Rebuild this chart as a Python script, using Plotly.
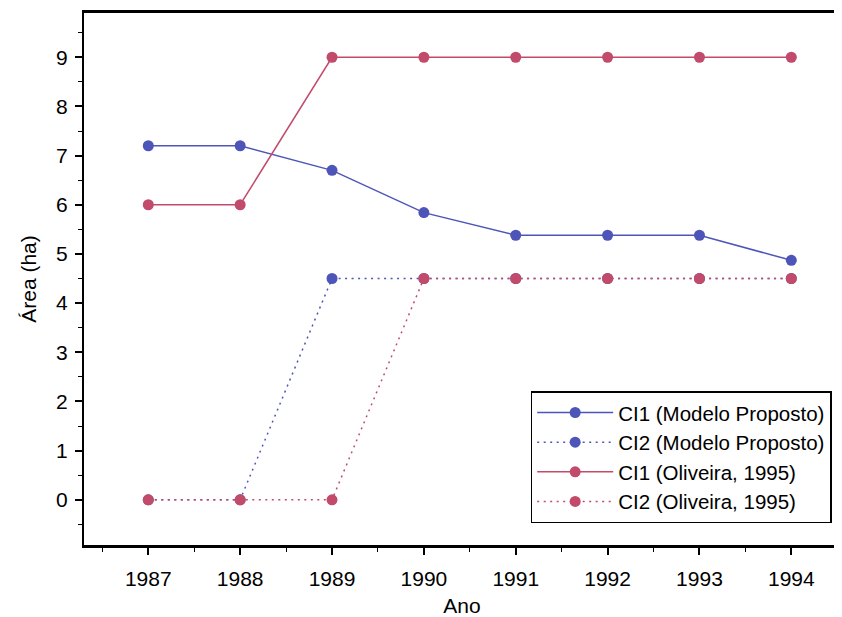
import plotly.graph_objects as go

anos = [1987, 1988, 1989, 1990, 1991, 1992, 1993, 1994]
ci1_modelo = [7.2, 7.2, 6.7, 5.84, 5.38, 5.38, 5.38, 4.87]
ci2_modelo = [0, 0, 4.5, 4.5, 4.5, 4.5, 4.5, 4.5]
ci1_oliveira = [6, 6, 9, 9, 9, 9, 9, 9]
ci2_oliveira = [0, 0, 0, 4.5, 4.5, 4.5, 4.5, 4.5]

blue = "#4d55b8"
red = "#c24a6a"
dotted = "2px,4.5px"

fig = go.Figure()
fig.add_trace(go.Scatter(x=anos, y=ci1_modelo, name="CI1 (Modelo Proposto)", mode="lines+markers",
                         line=dict(color=blue, width=1.5), marker=dict(color=blue, size=11)))
fig.add_trace(go.Scatter(x=anos, y=ci2_modelo, name="CI2 (Modelo Proposto)", mode="lines+markers",
                         line=dict(color=blue, width=1.5, dash=dotted), marker=dict(color=blue, size=11)))
fig.add_trace(go.Scatter(x=anos, y=ci1_oliveira, name="CI1 (Oliveira, 1995)", mode="lines+markers",
                         line=dict(color=red, width=1.5), marker=dict(color=red, size=11)))
fig.add_trace(go.Scatter(x=anos, y=ci2_oliveira, name="CI2 (Oliveira, 1995)", mode="lines+markers",
                         line=dict(color=red, width=1.5, dash=dotted), marker=dict(color=red, size=11)))

font = "Liberation Sans, Arial, sans-serif"
fig.update_layout(
    width=834, height=609,
    margin=dict(l=76, r=2, t=5, b=72),
    paper_bgcolor="white", plot_bgcolor="white",
    font=dict(family=font, color="black", size=21),
    showlegend=True,
    legend=dict(x=0.989, y=0.041, xanchor="right", yanchor="bottom",
                bordercolor="black", borderwidth=1.5, bgcolor="white",
                font=dict(size=20.5), tracegroupgap=0, itemwidth=76),
    xaxis=dict(range=[1986.3, 1994.53], tickvals=anos, ticktext=[str(a) for a in anos],
               automargin=False,
               showgrid=False, zeroline=False, showline=True, linecolor="black", linewidth=2.5,
               mirror=True, ticks="outside", ticklen=7, tickwidth=1.5, tickcolor="black",
               minor=dict(tickvals=[1986.5 + i for i in range(9)], ticks="outside", ticklen=4,
                          tickwidth=1, tickcolor="black"),
               tickfont=dict(size=21), ticklabelstandoff=6,
               title=dict(text="Ano", font=dict(size=21), standoff=10)),
    yaxis=dict(range=[-0.92, 9.9], tickvals=list(range(10)),
               automargin=False,
               showgrid=False, zeroline=False, showline=True, linecolor="black", linewidth=2,
               ticks="outside", ticklen=7, tickwidth=1.5, tickcolor="black",
               minor=dict(tickvals=[-0.5 + i for i in range(11)], ticks="outside", ticklen=4,
                          tickwidth=1, tickcolor="black"),
               tickfont=dict(size=21), ticklabelstandoff=3,
               title=dict(text="Área (ha)", font=dict(size=21), standoff=14)),
)

fig.write_html("out.html")
